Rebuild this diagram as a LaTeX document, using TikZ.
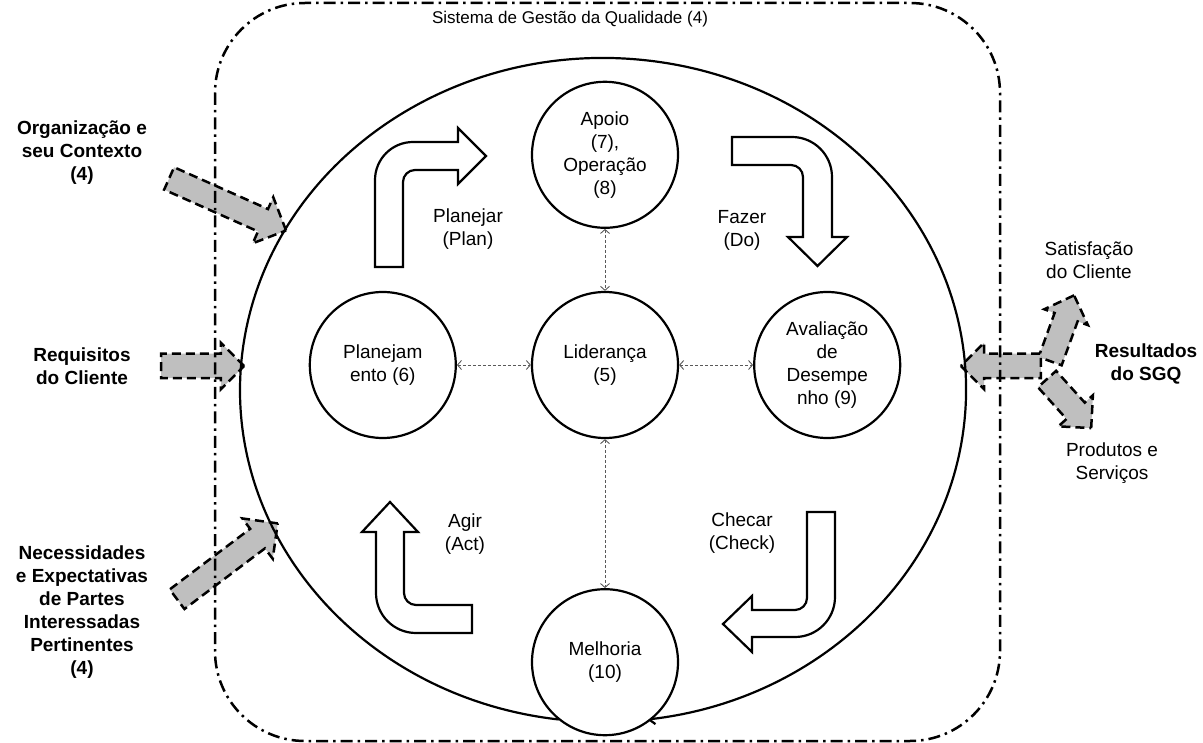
\documentclass[tikz,border=0pt]{standalone}
\usepackage{fontspec}
\setmainfont{Liberation Sans}
\usetikzlibrary{positioning, arrows.meta, shapes.arrows}

\tikzset{
  phase/.style={circle, draw, line width=2.2pt, fill=white, minimum size=146pt,
    inner sep=0pt, align=center, font=\fontsize{19}{23}\selectfont},
  link/.style={densely dashed, gray!70!black, line width=0.9pt,
    {Straight Barb[length=4pt,width=9pt]}-{Straight Barb[length=4pt,width=9pt]}},
  inarrow/.style={single arrow, draw, fill=gray!50, line width=2.5pt,
    dash pattern=on 9pt off 5pt, inner xsep=0pt, inner ysep=11pt,
    minimum width=0pt, single arrow head extend=13pt},
  outarrow/.style={inarrow, single arrow head extend=11pt},
  turn/.style={draw, fill=white, line width=2.2pt, line join=miter},
  lbl/.style={align=center, font=\fontsize{19}{23}\selectfont},
  blbl/.style={align=center, font=\fontsize{19}{23}\selectfont\bfseries},
  border/.style={line width=2.5pt, dash pattern=on 12pt off 5pt on 2.5pt off 5pt,
    rounded corners=90pt}
}

\begin{document}
\begin{tikzpicture}[x=1pt, y=-1pt]
\useasboundingbox (0,0) rectangle (1203,743);

% inputs and outputs
\node[inarrow, rotate=-24, minimum height=128pt] (orgarr) at (222,202) {};
\node[inarrow, minimum height=83pt, single arrow head extend=11pt] (reqarr) at (196.5,366) {};
\node[inarrow, rotate=37, minimum height=126pt] (necarr) at (222.5,565) {};
\node[outarrow, rotate=70, minimum height=70pt] (satarr) at (1060,334) {};
\node[outarrow, rotate=-48, minimum height=66pt] (prodarr) at (1065,399) {};
\node[outarrow, rotate=180, minimum height=80pt] (resarr) at (1007,366) {};

% SGQ frame
\draw[border] (215,3) rectangle (1000,741);
\node[font=\fontsize{17}{20}\selectfont] (title) at (570,19) {Sistema de Gestão da Qualidade (4)};

% PDCA cycle
\draw[line width=2.2pt, -{Straight Barb[length=6pt,width=11pt]}]
  (558.8,719.5) arc[start angle=97, end angle=443, x radius=363, y radius=332];

\node[phase] (lid) at (605,365) {Liderança\\(5)};
\node[phase, above=62pt of lid] (apoio) {Apoio\\(7),\\Operação\\(8)};
\node[phase, left=74pt of lid] (plan) {Planejam\\ento (6)};
\node[phase, right=74pt of lid] (aval) {Avaliação\\de\\Desempe\\nho (9)};
\node[phase, below=149pt of lid] (melh) {Melhoria\\(10)};

\draw
  (apoio) edge[link] (lid)
  (plan) edge[link] (lid)
  (lid) edge[link] (aval)
  (lid) edge[link] (melh);

% bent arrows
\draw[turn] (375,267) -- (375,180) arc[start angle=180, end angle=270, radius=38]
  -- (458,142) -- (458,128) -- (486,156) -- (458,184) -- (458,170) -- (415,170)
  arc[start angle=270, end angle=180, radius=12] -- (403,267) -- cycle;
\draw[turn] (732,137) -- (792,137) arc[start angle=270, end angle=360, radius=40]
  -- (832,237) -- (847,237) -- (817.5,266) -- (788,237) -- (803,237) -- (803,177)
  arc[start angle=0, end angle=-90, radius=12] -- (732,165) -- cycle;
\draw[turn] (807,512) -- (835,512) -- (835,597) arc[start angle=0, end angle=90, radius=40]
  -- (752,637) -- (752,652) -- (723,624) -- (752,596) -- (752,610) -- (795,610)
  arc[start angle=90, end angle=0, radius=12] -- cycle;
\draw[turn] (472,605) -- (472,633) -- (416,633) arc[start angle=90, end angle=180, radius=40]
  -- (376,532) -- (362,532) -- (390,502) -- (418,532) -- (404,532) -- (404,593)
  arc[start angle=180, end angle=90, radius=12] -- cycle;

\node[lbl] (planlbl) at (468,229) {Planejar\\(Plan)};
\node[lbl] (dolbl) at (742,230) {Fazer\\(Do)};
\node[lbl] (checklbl) at (742,533) {Checar\\(Check)};
\node[lbl] (actlbl) at (465,534) {Agir\\(Act)};

% labels outside
\node[blbl] (org) at (82,153) {Organização e\\seu Contexto\\(4)};
\node[blbl] (req) at (82,366) {Requisitos\\do Cliente};
\node[blbl] (nec) at (82,612) {Necessidades\\e Expectativas\\de Partes\\Interessadas\\Pertinentes\\(4)};
\node[lbl] (sat) at (1089,260) {Satisfação\\do Cliente};
\node[blbl] (res) at (1146,364) {Resultados\\do SGQ};
\node[lbl] (prod) at (1112,463) {Produtos e\\Serviços};
\end{tikzpicture}
\end{document}
